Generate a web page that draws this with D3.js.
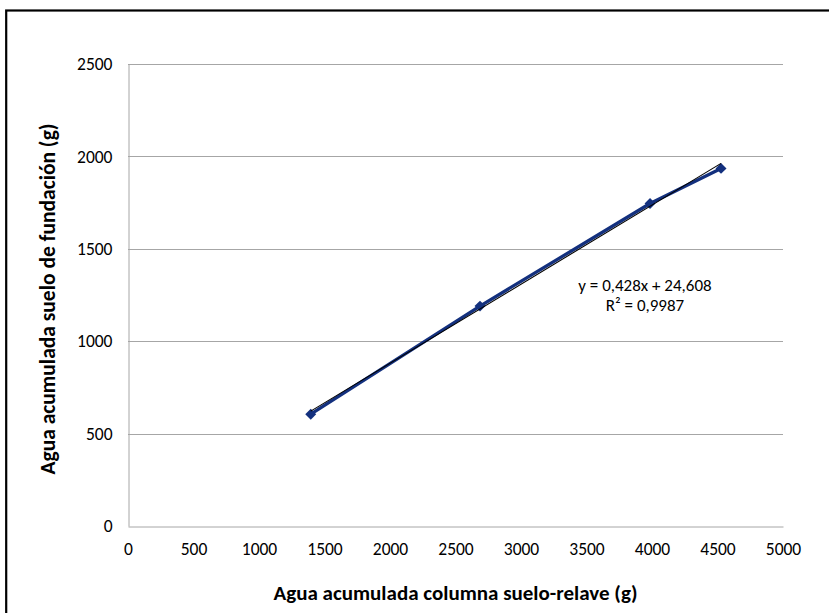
<!DOCTYPE html>
<html>
<head>
<meta charset="utf-8">
<script src="https://cdn.jsdelivr.net/npm/d3@7/dist/d3.min.js"></script>
<style>
  html, body { margin: 0; padding: 0; background: #fff; }
  svg { display: block; }
  text { font-family: Carlito, Lato, "Open Sans", sans-serif; fill: #000; }
</style>
</head>
<body>
<svg id="chart" width="829" height="613"></svg>
<script>
// Cumulative water: soil–tailings column (x) vs. foundation soil (y), in grams
const columnWater = [1395, 2687, 3985, 4527];
const foundationWater = [605, 1190, 1745, 1935];

// Axis ticks
const xTicks = [0, 500, 1000, 1500, 2000, 2500, 3000, 3500, 4000, 4500, 5000];
const yTicks = [0, 500, 1000, 1500, 2000, 2500];

// Linear trendline as reported on the chart
const trendSlope = 0.428;
const trendIntercept = 24.608;
const trendLabels = ["y = 0,428x + 24,608", "R² = 0,9987"];

const xTitle = "Agua acumulada columna suelo-relave (g)";
const yTitle = "Agua acumulada suelo de fundación (g)";

const svg = d3.select("#chart");
const W = 829, H = 613;
const plot = { left: 128, right: 783, top: 64, bottom: 526 };
const fontStack = "Carlito, Lato, 'Open Sans', sans-serif";

svg.append("rect").attr("width", W).attr("height", H).attr("fill", "#fff");

// Chart-area frame (runs past the right and bottom edges)
svg.append("rect")
  .attr("x", 6.2).attr("y", 10.5)
  .attr("width", W + 20).attr("height", H + 20)
  .attr("fill", "none").attr("stroke", "#000").attr("stroke-width", 2.2);

const x = d3.scaleLinear().domain([0, 5000]).range([plot.left, plot.right]);
const y = d3.scaleLinear().domain([0, 2500]).range([plot.bottom, plot.top]);

// Horizontal gridlines
svg.append("g")
  .selectAll("line")
  .data(yTicks.filter(d => d > 0))
  .join("line")
  .attr("x1", plot.left).attr("x2", plot.right)
  .attr("y1", d => Math.round(y(d)) + 0.5).attr("y2", d => Math.round(y(d)) + 0.5)
  .attr("stroke", "#a6a6a6").attr("stroke-width", 1);

// Axes
const xAxis = svg.append("g")
  .attr("transform", `translate(0,${plot.bottom + 0.5})`)
  .call(d3.axisBottom(x).tickValues(xTicks).tickSize(0).tickPadding(16).tickFormat(d3.format("d")));
const yAxis = svg.append("g")
  .attr("transform", `translate(${plot.left + 0.5},0)`)
  .call(d3.axisLeft(y).tickValues(yTicks).tickSize(0).tickPadding(16).tickFormat(d3.format("d")));
[xAxis, yAxis].forEach(g => {
  g.select(".domain").attr("stroke", "#a6a6a6").attr("stroke-width", 1);
  g.selectAll("text").attr("font-size", 17.5).attr("fill", "#000")
    .style("font-family", fontStack);
});

// Data series
const pts = columnWater.map((v, i) => [v, foundationWater[i]]);
const navy = "#13307e";
svg.append("path")
  .datum(pts)
  .attr("d", d3.line().x(d => x(d[0])).y(d => y(d[1])))
  .attr("fill", "none").attr("stroke", navy).attr("stroke-width", 3.3)
  .attr("stroke-linejoin", "round");
svg.append("g")
  .selectAll("path")
  .data(pts)
  .join("path")
  .attr("transform", d => `translate(${x(d[0])},${y(d[1])})`)
  .attr("d", d3.symbol(d3.symbolDiamond2, 76)())
  .attr("fill", navy);

// Trendline across the data range
const xMin = d3.min(columnWater), xMax = d3.max(columnWater);
svg.append("line")
  .attr("x1", x(xMin)).attr("y1", y(trendSlope * xMin + trendIntercept))
  .attr("x2", x(xMax)).attr("y2", y(trendSlope * xMax + trendIntercept))
  .attr("stroke", "#000").attr("stroke-width", 1.1);

// Trendline equation
svg.append("g")
  .selectAll("text")
  .data(trendLabels)
  .join("text")
  .attr("x", 645).attr("y", (d, i) => 291 + i * 20)
  .attr("text-anchor", "middle")
  .attr("font-size", 17)
  .text(d => d);

// Axis titles
svg.append("text")
  .attr("x", (plot.left + plot.right) / 2).attr("y", 600)
  .attr("text-anchor", "middle")
  .attr("font-size", 21).attr("font-weight", "bold")
  .text(xTitle);
svg.append("text")
  .attr("transform", `translate(55,299) rotate(-90)`)
  .attr("text-anchor", "middle")
  .attr("font-size", 21.5).attr("font-weight", "bold")
  .text(yTitle);
</script>
</body>
</html>
